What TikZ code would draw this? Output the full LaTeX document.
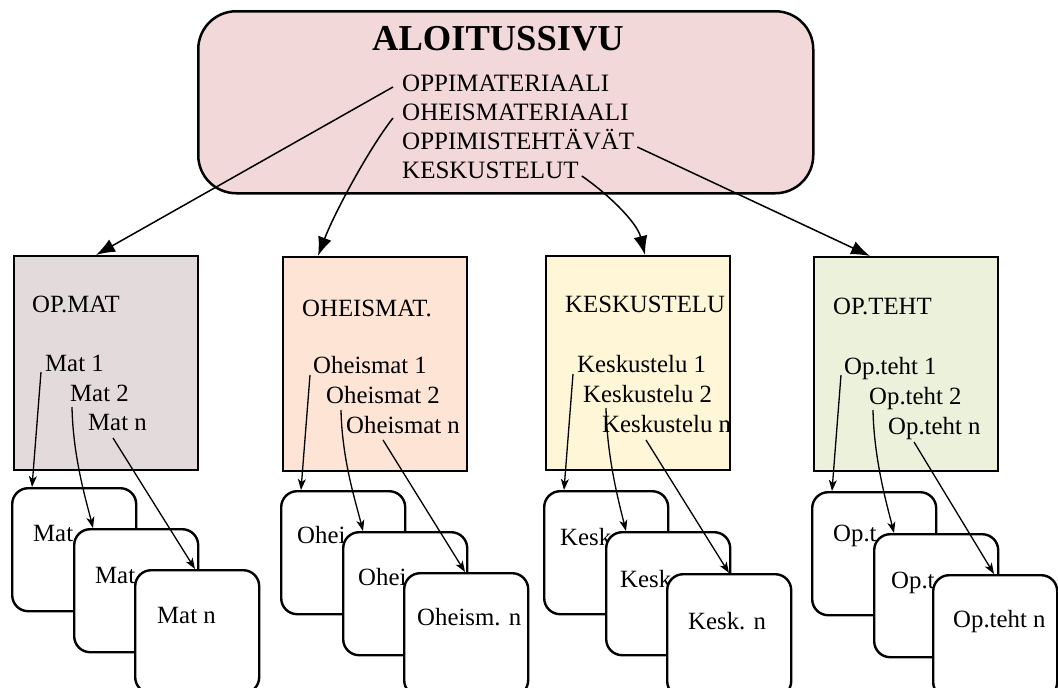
\documentclass[tikz,border=0pt]{standalone}
\usepackage{fontspec}
\setmainfont{Liberation Serif}
\usetikzlibrary{arrows.meta}

\definecolor{topfill}{HTML}{F2D8D9}
\definecolor{matfill}{HTML}{E3DADB}
\definecolor{oheisfill}{HTML}{FDE4D5}
\definecolor{keskfill}{HTML}{FFF5D7}
\definecolor{tehtfill}{HTML}{EBF1DB}

\begin{document}
\begin{tikzpicture}[x=1pt,y=-1pt,
  txt/.style={inner sep=0pt, anchor=base west, font=\fontsize{24.8}{29}\selectfont},
  toptxt/.style={inner sep=0pt, anchor=base west, font=\fontsize{25}{30}\selectfont},
  section/.style={draw, line width=2pt, anchor=north west, minimum width=184pt,
    minimum height=214pt, inner sep=0pt},
  card/.style={draw, fill=white, line width=2.4pt, rounded corners=16pt, anchor=north west,
    minimum width=124pt, minimum height=123pt, inner sep=0pt},
  bigarrow/.style={line width=1.5pt, -{Latex[length=19pt,width=14pt]}},
  smallarrow/.style={line width=1.3pt, -{Stealth[length=11pt,width=8pt,inset=3pt]}},
]
\useasboundingbox (0,0) rectangle (1058,688);

% start page
\node[draw, line width=2.5pt, fill=topfill, rounded corners=38pt, anchor=north west,
  minimum width=615pt, minimum height=182pt, inner sep=0pt] (home) at (197,10) {};
\node[inner sep=0pt, anchor=base, font=\bfseries\fontsize{36.5}{42}\selectfont] (title) at (498,50) {ALOITUSSIVU};
\node[toptxt] (l1) at (402,91)  {OPPIMATERIAALI};
\node[toptxt] (l2) at (402,120) {OHEISMATERIAALI};
\node[toptxt] (l3) at (402,149) {OPPIMISTEHTÄVÄT};
\node[toptxt] (l4) at (402,178) {KESKUSTELUT};

% section pages
\node[section, fill=matfill]   (s1) at (13,255) {};
\node[section, fill=oheisfill] (s2) at (282,256) {};
\node[section, fill=keskfill]  (s3) at (545,255) {};
\node[section, fill=tehtfill]  (s4) at (813,256) {};

\node[txt] (t1) at (32,312)  {OP.MAT};
\node[txt] (t2) at (302,316) {OHEISMAT.};
\node[txt] (t3) at (565,312) {KESKUSTELU};
\node[txt] (t4) at (833,314) {OP.TEHT};

\node[txt] (i11) at (45,371) {Mat 1};
\node[txt] (i12) at (70,401) {Mat 2};
\node[txt] (i13) at (88,430) {Mat n};
\node[txt] (i21) at (313,373) {Oheismat 1};
\node[txt] (i22) at (326,403) {Oheismat 2};
\node[txt] (i23) at (346,433) {Oheismat n};
\node[txt] (i31) at (577,372) {Keskustelu 1};
\node[txt] (i32) at (583,402) {Keskustelu 2};
\node[txt] (i33) at (602,432) {Keskustelu n};
\node[txt] (i41) at (844,374) {Op.teht 1};
\node[txt] (i42) at (869,404) {Op.teht 2};
\node[txt] (i43) at (888,434) {Op.teht n};

% stacked item pages
\node[card] (c11) at (11,487) {};
\node[txt]  (p11) at (33,541) {Mat};
\node[card] (c12) at (73,528) {};
\node[txt]  (p12) at (95,583) {Mat};
\node[card] (c13) at (134,569) {};
\node[txt]  (p13) at (157,623) {Mat n};

\node[card] (c21) at (280,490) {};
\node[txt]  (p21) at (297,543) {Ohei};
\node[card] (c22) at (342,531) {};
\node[txt]  (p22) at (358,585) {Ohei};
\node[card] (c23) at (403,572) {};
\node[txt]  (p23) at (417,625) {Oheism. n};

\node[card] (c31) at (543,490) {};
\node[txt]  (p31) at (560,545) {Kesk};
\node[card] (c32) at (605,531) {};
\node[txt]  (p32) at (620,587) {Kesk};
\node[card] (c33) at (666,573) {};
\node[txt]  (p33) at (688,629) {Kesk. n};

\node[card] (c41) at (811,491) {};
\node[txt]  (p41) at (833,541) {Op.t};
\node[card] (c42) at (873,533) {};
\node[txt]  (p42) at (891,588) {Op.t};
\node[card] (c43) at (932,574) {};
\node[txt]  (p43) at (953,627) {Op.teht n};

% links from the start page
\draw[bigarrow] ([xshift=-9pt,yshift=4pt]l1.base west) -- ([xshift=83pt]s1.north west);
\draw[bigarrow] ([xshift=-9pt,yshift=2pt]l2.base west)
  .. controls +(-25,32) and +(16,-42) .. ([xshift=36pt]s2.north west);
\draw[bigarrow] ([xshift=3pt,yshift=2pt]l4.base east)
  .. controls +(25,17) and +(-8,-33) .. ([xshift=100pt]s3.north west);
\draw[bigarrow] ([xshift=3pt,yshift=2pt]l3.base east) -- ([xshift=57pt]s4.north west);

% links from the section pages to the item pages
\draw[smallarrow] ([xshift=-4pt,yshift=-1pt]i11.base west) -- ([xshift=21pt]c11.north west);
\draw[smallarrow] ([xshift=2pt,yshift=-6pt]i12.base west)
  .. controls +(1,50) and +(-7,-28) .. ([xshift=20pt]c12.north west);
\draw[smallarrow] ([xshift=25pt,yshift=-8pt]i13.base west) -- ([xshift=61pt]c13.north west);

\draw[smallarrow] ([xshift=-3pt,yshift=-2pt]i21.base west) -- ([xshift=21pt]c21.north west);
\draw[smallarrow] ([xshift=15pt,yshift=-7pt]i22.base west)
  .. controls +(1,50) and +(-7,-28) .. ([xshift=21pt]c22.north west);
\draw[smallarrow] ([xshift=37pt,yshift=-7pt]i23.base west) -- ([xshift=62pt]c23.north west);

\draw[smallarrow] ([xshift=-4pt,yshift=-2pt]i31.base west) -- ([xshift=21pt]c31.north west);
\draw[smallarrow] ([xshift=23pt,yshift=-6pt]i32.base west)
  .. controls +(1,50) and +(-7,-28) .. ([xshift=21pt]c32.north west);
\draw[smallarrow] ([xshift=44pt,yshift=-8pt]i33.base west) -- ([xshift=63pt]c33.north west);

\draw[smallarrow] ([xshift=-3pt,yshift=-1pt]i41.base west) -- ([xshift=21pt]c41.north west);
\draw[smallarrow] ([xshift=4pt,yshift=-6pt]i42.base west)
  .. controls +(1,50) and +(-7,-28) .. ([xshift=21pt]c42.north west);
\draw[smallarrow] ([xshift=26pt,yshift=-8pt]i43.base west) -- ([xshift=62pt]c43.north west);
\end{tikzpicture}
\end{document}
